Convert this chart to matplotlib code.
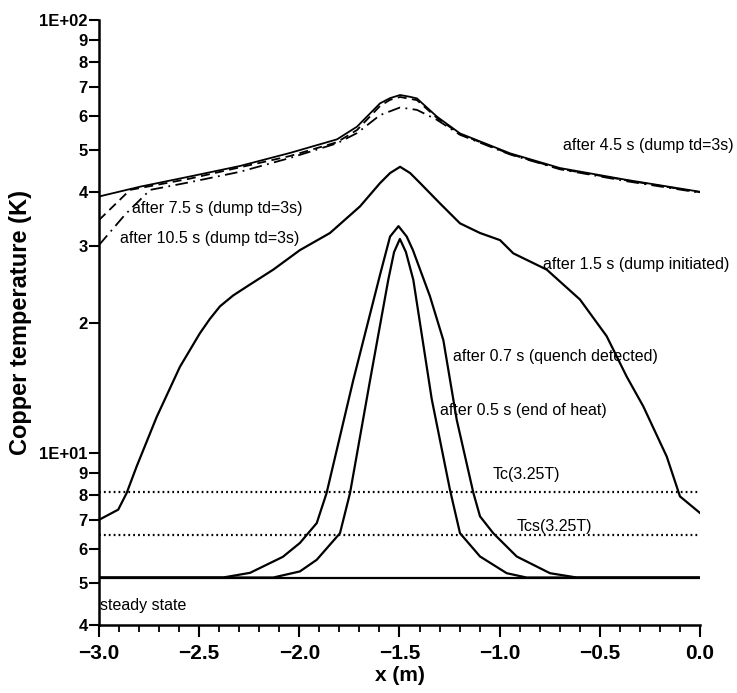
import matplotlib
matplotlib.use("Agg")
import matplotlib.pyplot as plt
from matplotlib.ticker import FixedLocator, FixedFormatter, MultipleLocator, NullLocator

FONT = ["Liberation Sans Narrow", "Liberation Sans", "DejaVu Sans"]
plt.rcParams["font.family"] = FONT

# temperature profiles along the conductor, x in m, T in K
x_45 = [-3.0, -2.795, -2.546, -2.296, -2.047, -1.812, -1.712, -1.597, -1.547, -1.497,
        -1.45, -1.413, -1.313, -1.198, -0.948, -0.699, -0.364, 0.0]
T_45 = [39.1, 41.2, 43.5, 46.0, 49.3, 53.0, 56.7, 64.2, 66.0, 67.1,
        66.5, 65.9, 59.8, 54.7, 49.2, 45.5, 42.7, 40.1]

x_75 = [-3.0, -2.845, -2.546, -2.047, -1.812, -1.712, -1.597, -1.547, -1.497,
        -1.413, -1.313, -1.198, -0.948, -0.699, -0.364, 0.0]
T_75 = [34.5, 40.5, 43.0, 48.5, 52.2, 55.7, 63.3, 65.4, 66.4,
        65.3, 59.4, 54.5, 49.0, 45.3, 42.6, 40.0]

x_105 = [-3.0, -2.87, -2.745, -2.546, -2.296, -2.047, -1.812, -1.712, -1.597, -1.497,
         -1.413, -1.313, -1.198, -0.948, -0.699, -0.364, 0.0]
T_105 = [30.2, 35.5, 40.5, 42.2, 44.6, 48.0, 51.9, 54.8, 60.3, 62.8,
         62.0, 58.8, 54.3, 48.9, 45.2, 42.4, 39.9]

x_15 = [-3.0, -2.904, -2.862, -2.812, -2.712, -2.596, -2.496, -2.446, -2.396, -2.330,
        -2.263, -2.130, -1.997, -1.847, -1.697, -1.597, -1.547, -1.497, -1.447, -1.397,
        -1.298, -1.198, -1.098, -0.998, -0.932, -0.765, -0.599, -0.466, -0.366, -0.283,
        -0.166, -0.100, 0.0]
T_15 = [7.0, 7.39, 8.07, 9.3, 12.1, 15.8, 18.9, 20.4, 21.8, 23.1,
        24.2, 26.5, 29.4, 32.2, 37.1, 42.0, 44.3, 45.8, 44.3, 42.0,
        37.7, 33.9, 32.2, 31.0, 28.9, 26.5, 22.6, 18.6, 15.0, 12.8,
        9.8, 7.93, 7.26]

x_07 = [-3.0, -2.381, -2.246, -2.082, -1.997, -1.913, -1.864, -1.731, -1.597, -1.547,
        -1.505, -1.464, -1.433, -1.348, -1.281, -1.214, -1.131, -1.098, -1.032, -0.915,
        -0.749, -0.615, 0.0]
T_07 = [5.15, 5.15, 5.28, 5.75, 6.19, 6.88, 8.07, 14.7, 25.8, 31.6,
        33.4, 31.6, 29.4, 23.0, 18.2, 11.9, 8.07, 7.13, 6.52, 5.76,
        5.27, 5.15, 5.15]

x_05 = [-3.0, -2.130, -1.997, -1.913, -1.797, -1.747, -1.647, -1.556, -1.527, -1.498,
        -1.468, -1.431, -1.339, -1.248, -1.198, -1.098, -0.965, -0.866, 0.0]
T_05 = [5.15, 5.15, 5.32, 5.66, 6.52, 8.07, 14.7, 25.1, 29.1, 31.2,
        29.1, 25.1, 13.3, 8.21, 6.52, 5.76, 5.27, 5.15, 5.15]

x_span = [-3.0, 0.0]
T_steady = 5.15
T_c = 8.1
T_cs = 6.47

# curve annotations
label_text = ["after 4.5 s (dump td=3s)", "after 7.5 s (dump td=3s)",
              "after 10.5 s (dump td=3s)", "after 1.5 s (dump initiated)",
              "after 0.7 s (quench detected)", "after 0.5 s (end of heat)",
              "Tc(3.25T)", "Tcs(3.25T)", "steady state"]
label_x = [-0.684, -2.835, -2.895, -0.784, -1.233, -1.298, -1.033, -0.913, -2.995]
label_T = [51.4, 36.6, 31.2, 27.2, 16.7, 12.5, 8.9, 6.75, 4.43]

y_ticks = [4, 5, 6, 7, 8, 9, 10, 20, 30, 40, 50, 60, 70, 80, 90, 100]
y_ticklabels = ["4", "5", "6", "7", "8", "9", "1E+01",
                "2", "3", "4", "5", "6", "7", "8", "9", "1E+02"]

fig = plt.figure(figsize=(7.37, 6.93), dpi=100)
ax = fig.add_axes([0.1343, 0.0981, 0.8155, 0.8730])

lw = 1.6
ax.plot(x_span, [T_steady, T_steady], color="black", lw=lw)
ax.plot(x_span, [T_c, T_c], color="black", lw=1.6, ls=(0, (0.8, 1.4)))
ax.plot(x_span, [T_cs, T_cs], color="black", lw=1.6, ls=(0, (0.8, 1.4)))
ax.plot(x_05, T_05, color="black", lw=lw)
ax.plot(x_07, T_07, color="black", lw=lw)
ax.plot(x_15, T_15, color="black", lw=lw)
ax.plot(x_105, T_105, color="black", lw=1.3, ls=(0, (7, 3, 1, 3)))
ax.plot(x_75, T_75, color="black", lw=1.3, ls=(0, (5, 3)))
ax.plot(x_45, T_45, color="black", lw=1.3)

for txt, lx, ly in zip(label_text, label_x, label_T):
    ax.text(lx, ly, txt, fontsize=11.5, ha="left", va="center", clip_on=False)

ax.set_yscale("log")
ax.set_xlim(-3.0, 0.0)
ax.set_ylim(4, 100)
ax.yaxis.set_major_locator(FixedLocator(y_ticks))
ax.yaxis.set_major_formatter(FixedFormatter(y_ticklabels))
ax.yaxis.set_minor_locator(NullLocator())
ax.xaxis.set_major_locator(MultipleLocator(0.5))
ax.xaxis.set_minor_locator(MultipleLocator(0.1))
ax.xaxis.set_major_formatter(plt.FuncFormatter(lambda v, p: f"{v:.1f}".replace("-", "\u2212")))

for side in ("top", "right"):
    ax.spines[side].set_visible(False)
for side in ("left", "bottom"):
    ax.spines[side].set_linewidth(1.8)

ax.tick_params(axis="y", which="major", direction="out", length=7, width=1.5,
               pad=1, labelsize=12)
ax.tick_params(axis="x", which="major", direction="out", length=8.5, width=1.5,
               pad=5, labelsize=15)
ax.tick_params(axis="x", which="minor", direction="out", length=5, width=1.3)
for lab in ax.get_xticklabels() + ax.get_yticklabels():
    lab.set_fontweight("bold")

ax.set_xlabel("x (m)", fontsize=15, fontweight="bold", labelpad=2)
ax.set_ylabel("Copper temperature (K)", fontsize=17, fontweight="bold", labelpad=5)

fig.savefig("out.png", dpi=100)
